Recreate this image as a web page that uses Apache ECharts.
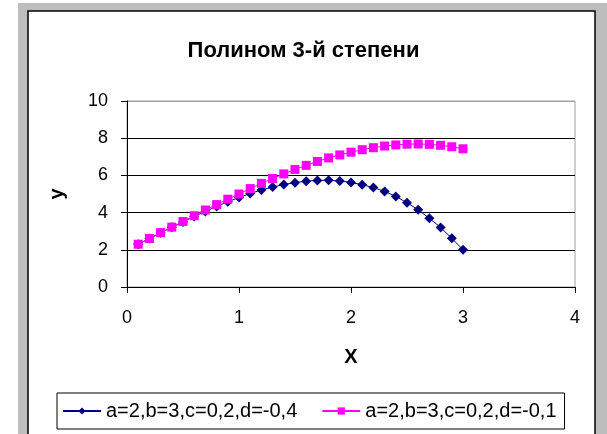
<!DOCTYPE html>
<html>
<head>
<meta charset="utf-8">
<title>Полином 3-й степени</title>
<script src="https://cdn.jsdelivr.net/npm/echarts@6/dist/echarts.min.js"></script>
<style>
  html, body { margin: 0; padding: 0; background: #fff; }
  #main { width: 607px; height: 434px; }
</style>
</head>
<body>
<div id="main"></div>
<script>
// x values 0.1 .. 3.0
var xValues = [0.1, 0.2, 0.3, 0.4, 0.5, 0.6, 0.7, 0.8, 0.9, 1.0,
               1.1, 1.2, 1.3, 1.4, 1.5, 1.6, 1.7, 1.8, 1.9, 2.0,
               2.1, 2.2, 2.3, 2.4, 2.5, 2.6, 2.7, 2.8, 2.9, 3.0];
var seriesD04 = [2.30, 2.61, 2.91, 3.21, 3.50, 3.79, 4.06, 4.33, 4.59, 4.81,
                 5.03, 5.21, 5.37, 5.51, 5.61, 5.69, 5.73, 5.74, 5.70, 5.62,
                 5.50, 5.35, 5.14, 4.87, 4.53, 4.15, 3.69, 3.20, 2.62, 2.00];
var seriesD01 = [2.30, 2.61, 2.92, 3.22, 3.52, 3.83, 4.14, 4.43, 4.72, 5.00,
                 5.29, 5.57, 5.83, 6.08, 6.32, 6.54, 6.75, 6.94, 7.10, 7.25,
                 7.38, 7.49, 7.58, 7.64, 7.68, 7.69, 7.67, 7.62, 7.54, 7.43];
var seriesNames = ['a=2,b=3,c=0,2,d=-0,4', 'a=2,b=3,c=0,2,d=-0,1'];
var xTicks = [0, 1, 2, 3, 4];
var yTicks = [0, 2, 4, 6, 8, 10];

function pairs(xs, ys) {
  var out = [];
  for (var i = 0; i < xs.length; i++) out.push([xs[i], ys[i]]);
  return out;
}

var chart = echarts.init(document.getElementById('main'));
var font = '"Liberation Sans", Arial, sans-serif';

var option = {
  animation: false,
  textStyle: { fontFamily: font },
  graphic: [
    // grey window frame and the white chart area inside it
    { type: 'rect', z: -10, silent: true, shape: { x: 18, y: 3, width: 589, height: 440 },
      style: { fill: '#bdbdbd' } },
    { type: 'rect', z: -9, silent: true, shape: { x: 28, y: 11, width: 567, height: 440 },
      style: { fill: '#ffffff', stroke: '#000000', lineWidth: 1.5 } }
  ],
  title: {
    text: 'Полином 3-й степени',
    left: 'center',
    top: 35,
    textStyle: { fontFamily: font, fontSize: 22, fontWeight: 'bold', color: '#000' }
  },
  legend: {
    left: 57,
    top: 393,
    padding: [8, 8, 8, 5],
    itemGap: 24,
    itemWidth: 38,
    itemHeight: 9,
    borderColor: '#000',
    borderWidth: 1,
    textStyle: { fontFamily: font, fontSize: 20, color: '#000' },
    data: seriesNames
  },
  grid: {
    left: 127,
    right: 32,
    top: 101,
    bottom: 147,
    show: true,
    borderColor: '#a0a0a0',
    borderWidth: 1,
    backgroundColor: '#fff'
  },
  xAxis: {
    type: 'value',
    min: xTicks[0],
    max: xTicks[xTicks.length - 1],
    interval: 1,
    name: 'X',
    nameLocation: 'middle',
    nameGap: 60,
    nameTextStyle: { fontFamily: font, fontSize: 20, fontWeight: 'bold', color: '#000' },
    axisLine: { show: true, lineStyle: { color: '#000', width: 1 } },
    axisTick: { show: true, length: 6, lineStyle: { color: '#000' } },
    axisLabel: { fontFamily: font, fontSize: 18, color: '#000', margin: 22 },
    splitLine: { show: false }
  },
  yAxis: {
    type: 'value',
    min: yTicks[0],
    max: yTicks[yTicks.length - 1],
    interval: 2,
    name: 'y',
    nameLocation: 'middle',
    nameRotate: 90,
    nameGap: 60,
    nameTextStyle: { fontFamily: font, fontSize: 20, fontWeight: 'bold', color: '#000' },
    axisLine: { show: true, lineStyle: { color: '#000', width: 1 } },
    axisTick: { show: true, length: 6, lineStyle: { color: '#000' } },
    axisLabel: { fontFamily: font, fontSize: 18, color: '#000', margin: 19 },
    splitLine: {
      show: true,
      lineStyle: { color: ['#000', '#000', '#000', '#000', '#000', '#a0a0a0'], width: 1 }
    }
  },
  series: [
    {
      name: seriesNames[0],
      type: 'line',
      data: pairs(xValues, seriesD04),
      symbol: 'diamond',
      symbolSize: 10,
      z: 2,
      itemStyle: { color: '#000080' },
      lineStyle: { color: '#000080', width: 1 }
    },
    {
      name: seriesNames[1],
      type: 'line',
      data: pairs(xValues, seriesD01),
      symbol: 'rect',
      symbolSize: 9,
      z: 3,
      itemStyle: { color: '#ff00ff' },
      lineStyle: { color: '#ff00ff', width: 1 }
    }
  ]
};

chart.setOption(option);
</script>
</body>
</html>
